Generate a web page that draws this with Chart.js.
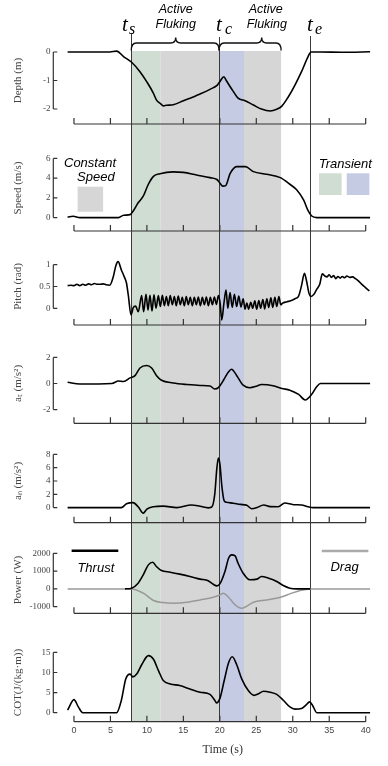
<!DOCTYPE html>
<html lang="en">
<head>
  <meta charset="UTF-8">
  <meta name="viewport" content="width=device-width, initial-scale=1">
  <title>Fluking kinematics</title>
  <style>
    * { margin: 0; padding: 0; box-sizing: border-box; }
    body { background: #fff; }
    #figure { position: relative; width: 388px; height: 766px; overflow: hidden; }
    #figure canvas { position: absolute; left: 0; }
  </style>
  <script src="https://cdn.jsdelivr.net/npm/chart.js"></script>
</head>
<body>
  <div id="figure"></div>
  <script>
// ---- time axis ----
const xTicks = [0, 5, 10, 15, 20, 25, 30, 35, 40];
const tStart = 7.86, tChange = 19.9, tEnd = 32.42;
const greenSpan = [7.86, 11.84];
const graySpan1 = [11.84, 19.9];
const blueSpan = [19.9, 23.32];
const graySpan2 = [23.32, 28.4];

// ---- series (time s, value) ----
const depthT = [-0.87, 4.9, 5.85, 6.8, 7.9, 9.05, 9.97, 10.9, 11.3, 11.9, 12.25, 12.7, 13.6, 15.0, 17.3, 18.65, 19.66, 20.0, 20.55, 20.9, 21.86, 22.5, 23.46, 24.6, 25.7, 26.9, 27.8, 28.5, 29.4, 30.3, 31.2, 32.1, 32.5, 33.7, 37, 40.6];
const depthV = [0, 0, 0.03, -0.16, -0.36, -0.69, -1.04, -1.45, -1.68, -1.82, -1.89, -1.87, -1.85, -1.71, -1.47, -1.31, -1.16, -1.04, -0.87, -1.01, -1.39, -1.62, -1.71, -1.86, -2.0, -2.07, -2.01, -1.9, -1.57, -1.16, -0.69, -0.16, 0, 0, -0.01, 0.01];

const speedT = [-0.87, -0.1, 0.8, 6.1, 6.8, 7.7, 8.1, 8.8, 9.5, 10.2, 10.9, 11.8, 13.6, 15.0, 16.8, 18.65, 19.6, 20.0, 20.4, 20.8, 21.4, 22.3, 23.5, 24.6, 26.4, 28.3, 29.6, 30.5, 31.5, 32.1, 32.6, 33.3, 40.6];
const speedV = [0.05, 0.13, 0, 0, 0.24, 0.3, 0.64, 1.5, 2.17, 3.38, 4.18, 4.45, 4.63, 4.58, 4.31, 4.05, 3.86, 3.51, 3.19, 3.24, 4.45, 5.17, 5.17, 4.66, 4.4, 4.05, 3.38, 2.84, 1.77, 0.7, 0.16, 0, 0];

const pitchT = [
  -0.87, -0.4, 0, 0.4, 0.8, 1.2, 1.6, 2.0, 2.4, 2.8,
  3.2, 3.6, 4.0, 4.4, 4.9, 5.4, 5.75, 6.05, 6.5, 6.9,
  7.2, 7.45, 7.82, 8.14, 8.45, 8.82, 9.28, 9.55, 9.88, 10.15,
  10.42, 10.7, 10.97, 11.25, 11.57, 11.84, 12.12, 12.39, 12.67, 12.94,
  13.2, 13.49, 13.76, 14.03, 14.3, 14.58, 14.85, 15.13, 15.4, 15.67,
  15.95, 16.23, 16.5, 16.78, 17.05, 17.33, 17.6, 17.88, 18.15, 18.43,
  18.7, 18.98, 19.25, 19.53, 19.8, 20.05, 20.26, 20.55, 20.85, 21.1,
  21.4, 21.7, 22.0, 22.3, 22.6, 22.9, 23.2, 23.45, 23.7, 23.95,
  24.25, 24.5, 24.8, 25.05, 25.35, 25.6, 25.9, 26.15, 26.45, 26.7,
  27.0, 27.25, 27.55, 27.8, 28.1, 28.35, 28.6, 29.2, 29.8, 30.3,
  30.8, 31.2, 31.6, 31.9, 32.2, 32.5, 32.9, 33.3, 33.7, 34.05,
  34.4, 34.7, 35.0, 35.3, 35.6, 35.9, 36.2, 36.5, 36.8, 37.1,
  37.4, 37.8, 38.2, 38.6, 39.0, 39.4, 39.8, 40.2, 40.5
];
const pitchV = [
  0.52, 0.53, 0.52, 0.55, 0.52, 0.55, 0.53, 0.56, 0.54, 0.57,
  0.55, 0.55, 0.56, 0.54, 0.53, 0.73, 0.98, 1.07, 0.88, 0.72,
  0.58, 0.3, -0.15, 0.02, 0.05, -0.08, 0.29, -0.08, 0.32, -0.04,
  0.3, -0.06, 0.31, 0.0, 0.29, 0.04, 0.3, 0.06, 0.27, 0.06,
  0.29, 0.08, 0.27, 0.06, 0.28, 0.08, 0.25, 0.06, 0.27, 0.08,
  0.25, 0.06, 0.25, 0.08, 0.26, 0.06, 0.25, 0.08, 0.26, 0.06,
  0.25, 0.08, 0.26, 0.09, 0.29, 0.1, -0.27, 0.1, 0.42, 0.0,
  0.36, 0.02, 0.32, 0.04, 0.28, 0.03, 0.22, -0.02, 0.12, -0.02,
  0.14, 0.0, 0.17, -0.02, 0.18, 0.0, 0.2, -0.01, 0.22, 0.02,
  0.24, 0.02, 0.25, 0.04, 0.27, 0.08, 0.12, 0.15, 0.18, 0.22,
  0.28, 0.52, 0.8, 0.62, 0.36, 0.27, 0.32, 0.44, 0.55, 0.79,
  0.74, 0.72, 0.77, 0.71, 0.75, 0.68, 0.73, 0.69, 0.73, 0.7,
  0.74, 0.71, 0.72, 0.68, 0.63, 0.56, 0.5, 0.44, 0.4
];

const atT = [-0.87, 0.8, 5.2, 6.1, 6.8, 7.7, 8.4, 9.05, 9.97, 10.65, 11.3, 12.0, 13.6, 15.5, 17.3, 18.65, 19.3, 19.8, 20.5, 21.2, 21.6, 22.3, 23.2, 24.1, 25.1, 25.7, 27.3, 28.5, 29.6, 30.8, 31.7, 32.6, 33.3, 33.8, 40.6];
const atV = [0.09, -0.04, 0, 0.19, 0.15, 0.43, 0.62, 1.19, 1.38, 1.19, 0.62, 0.25, 0.04, -0.08, -0.15, -0.19, -0.42, -0.32, 0.25, 0.9, 1.09, 0.62, -0.13, -0.32, -0.19, -0.08, -0.17, -0.38, -0.51, -0.83, -1.26, -0.83, -0.23, 0, 0];

const anT = [-0.87, 6.5, 7.2, 8.1, 8.8, 9.5, 10.0, 10.9, 12.25, 14.1, 16.1, 17.3, 18.4, 18.9, 19.3, 19.6, 19.8, 20.0, 20.3, 20.6, 20.9, 21.86, 22.8, 23.7, 24.4, 25.1, 26.0, 26.9, 28.0, 28.9, 30.1, 31.2, 32.1, 32.8, 40.6];
const anV = [0, 0, 0.57, 0.75, 0.13, -0.83, -0.22, 0.13, 0.22, 0, 0.4, 0.2, -0.04, 0.1, 2.0, 6.0, 7.44, 6.6, 3.0, 1.0, 0.8, 0.66, 0.48, 0.35, -0.18, 0, 0.4, 0.15, 0.13, 0.7, 0.44, 0.4, 0.13, 0, 0];

const thrustT = [7.0, 7.9, 8.8, 9.5, 10.2, 10.8, 11.3, 12.0, 13.2, 14.5, 15.9, 17.3, 18.4, 19.1, 19.6, 20.0, 20.7, 21.2, 21.6, 22.1, 22.5, 23.2, 24.1, 25.1, 25.7, 26.7, 27.8, 28.7, 29.6, 30.5, 32.4];
const thrustV = [0, 40, 320, 790, 1350, 1500, 1260, 1030, 940, 830, 700, 550, 460, 260, 170, 280, 980, 1720, 1910, 1850, 1440, 880, 510, 550, 700, 600, 420, 190, 40, 0, 0];

const dragT = [-0.87, 7.6, 7.9, 9.5, 10.9, 12.25, 13.6, 15.5, 17.3, 19.1, 20.0, 20.5, 21.2, 22.1, 23.0, 23.6, 24.6, 26.4, 28.3, 29.6, 31.0, 32.4, 40.6];
const dragV = [0, 0, 0, -240, -650, -770, -800, -750, -620, -470, -340, -240, -470, -900, -1090, -990, -750, -620, -470, -280, -90, 0, 0];

const cotT = [-0.87, 0, 0.6, 1.2, 5.85, 6.5, 7.1, 7.7, 8.05, 8.6, 9.3, 10.2, 10.9, 11.6, 12.25, 13.2, 14.5, 15.9, 17.3, 18.65, 19.3, 19.55, 20.0, 20.6, 21.2, 21.7, 22.3, 23.0, 23.9, 24.7, 25.3, 26.0, 26.9, 27.8, 28.7, 29.6, 30.3, 31.2, 31.8, 32.3, 32.7, 33.3, 40.6];
const cotV = [0.65, 3.25, 1.46, 0, 0, 3.1, 8.4, 9.6, 8.9, 9.6, 12.0, 14.2, 13.3, 10.4, 8.0, 7.15, 6.75, 5.9, 5.1, 4.55, 3.1, 2.45, 3.5, 8.0, 12.4, 13.9, 12.0, 8.4, 5.5, 4.3, 4.7, 5.35, 5.1, 4.55, 3.1, 1.46, 0.9, 1.06, 1.87, 2.7, 1.87, 0, 0];

// ---- y ticks ----
const depthTicks = [-2, -1, 0];
const speedTicks = [0, 2, 4, 6];
const pitchTicks = [0, 0.5, 1];
const atTicks = [-2, 0, 2];
const anTicks = [0, 2, 4, 6, 8];
const powerTicks = [-1000, 0, 1000, 2000];
const cotTicks = [0, 5, 10, 15];

// ---- look ----
const GREEN = '#cfddd3', GRAY = '#d6d6d6', BLUE = '#c6cbe4';
const AXIS = '#333', LABEL = '#444';
const X_MIN = -0.9, X_MAX = 41.7;
const Y_W = 67.4, PAD_R = 9.9, YAXIS_X = 53.3;

const spans = [
  { r: greenSpan, c: GREEN }, { r: graySpan1, c: GRAY },
  { r: blueSpan, c: BLUE }, { r: graySpan2, c: GRAY }
];
const events = [
  { t: tStart, top: 33 }, { t: tChange, top: 37 }, { t: tEnd, top: 36 }
];

const black = (t, v) => ({ t, v, color: '#000', width: 1.6 });
const panels = [
  { title: 'Depth (m)', ticks: depthTicks, series: [black(depthT, depthV)], top: 0, bottom: 136, aTop: 52, aBot: 109, axisY: 124 },
  { title: 'Speed (m/s)', ticks: speedTicks, series: [black(speedT, speedV)], top: 136, bottom: 240, aTop: 149, aBot: 223.7, axisY: 231 },
  { title: 'Pitch (rad)', ticks: pitchTicks, series: [black(pitchT, pitchV)], top: 240, bottom: 335, aTop: 264.7, aBot: 308.3, axisY: 325 },
  { title: 'aₜ (m/s²)', ticks: atTicks, series: [black(atT, atV)], top: 335, bottom: 432, aTop: 348.3, aBot: 419.3, axisY: 423.3 },
  { title: 'aₙ (m/s²)', ticks: anTicks, series: [black(anT, anV)], top: 432, bottom: 530, aTop: 447.5, aBot: 507.7, axisY: 522.7 },
  { title: 'Power (W)', ticks: powerTicks, series: [black(thrustT, thrustV), { t: dragT, v: dragV, color: '#999', width: 1.5 }], top: 530, bottom: 630, aTop: 553.3, aBot: 606.7, axisY: 613.3 },
  { title: 'COT(J/(kg·m))', ticks: cotTicks, series: [black(cotT, cotV)], top: 630, bottom: 766, aTop: 651, aBot: 712.7, axisY: 721.7 }
];

function text(ctx, s, x, y, font, align) {
  ctx.font = font;
  ctx.textAlign = align || 'center';
  ctx.textBaseline = 'alphabetic';
  ctx.fillStyle = '#000';
  ctx.fillText(s, x, y);
}

function brace(ctx, x1, xt, x2, yb, ym, yt) {
  const r = 5;
  ctx.beginPath();
  ctx.moveTo(x1, yb);
  ctx.quadraticCurveTo(x1, ym, x1 + r, ym);
  ctx.lineTo(xt - r, ym);
  ctx.quadraticCurveTo(xt, ym, xt, yt);
  ctx.quadraticCurveTo(xt, ym, xt + r, ym);
  ctx.lineTo(x2 - r, ym);
  ctx.quadraticCurveTo(x2, ym, x2, yb);
  ctx.stroke();
}

// shading, event lines, detached axes, notes
const decor = {
  id: 'decor',
  beforeDatasetsDraw(chart, args, opts) {
    const i = opts.index, p = panels[i];
    const first = i === 0, last = i === panels.length - 1;
    const { ctx, chartArea, scales: { x, y } } = chart;
    const y0 = first ? chartArea.top - 1 : 0;
    const y1 = last ? p.axisY - p.top : chart.height;
    ctx.save();
    spans.forEach(s => {
      const a = x.getPixelForValue(s.r[0]), b = x.getPixelForValue(s.r[1]);
      ctx.fillStyle = s.c;
      ctx.fillRect(a, y0, b - a, y1 - y0);
    });
    ctx.strokeStyle = '#3a3a3a';
    ctx.lineWidth = 1;
    events.forEach(e => {
      const px = Math.round(x.getPixelForValue(e.t)) + 0.5;
      ctx.beginPath();
      ctx.moveTo(px, first ? e.top : 0);
      ctx.lineTo(px, y1);
      ctx.stroke();
    });

    // y axis line and inward ticks
    ctx.strokeStyle = AXIS;
    ctx.lineWidth = 1.2;
    const yA = y.getPixelForValue(p.ticks[p.ticks.length - 1]);
    const yB = y.getPixelForValue(p.ticks[0]);
    ctx.beginPath();
    ctx.moveTo(YAXIS_X, yA);
    ctx.lineTo(YAXIS_X, yB);
    p.ticks.forEach(v => {
      const py = y.getPixelForValue(v);
      ctx.moveTo(YAXIS_X, py);
      ctx.lineTo(YAXIS_X + 4, py);
    });
    ctx.stroke();

    // x axis line, detached below the panel
    const ay = p.axisY - p.top;
    ctx.beginPath();
    ctx.moveTo(x.getPixelForValue(xTicks[0]), ay);
    ctx.lineTo(x.getPixelForValue(xTicks[xTicks.length - 1]), ay);
    xTicks.forEach(v => {
      const px = x.getPixelForValue(v);
      ctx.moveTo(px, ay);
      ctx.lineTo(px, ay - 6);
    });
    ctx.stroke();
    ctx.restore();
  },
  afterDatasetsDraw(chart, args, opts) {
    const i = opts.index;
    const { ctx, scales: { x } } = chart;
    const X = t => x.getPixelForValue(t);
    const off = panels[i].top;
    ctx.save();
    if (i === 0) {
      ctx.strokeStyle = '#111';
      ctx.lineWidth = 1.4;
      brace(ctx, X(tStart), X(13.95), X(tChange), 50.5, 43, 37.5);
      brace(ctx, X(tChange), X(25.74), X(28.4), 50.5, 43, 37.5);
      const f = 'italic 12.5px "Liberation Sans", Arial, sans-serif';
      text(ctx, 'Active', X(13.95), 12.5, f);
      text(ctx, 'Fluking', X(13.95), 27.5, f);
      text(ctx, 'Active', X(26.3), 12.5, f);
      text(ctx, 'Fluking', X(26.45), 27.5, f);
      const ft = 'italic 21px "Liberation Serif", serif';
      const fs = 'italic 16px "Liberation Serif", serif';
      [[6.58, 7.54, 's'], [19.48, 20.71, 'c'], [31.96, 33.06, 'e']].forEach(l => {
        text(ctx, 't', X(l[0]), 30.5, ft, 'left');
        text(ctx, l[2], X(l[1]), 34, fs, 'left');
      });
    }
    if (i === 1) {
      const f = 'italic 13px "Liberation Sans", Arial, sans-serif';
      text(ctx, 'Constant', X(2.2), 166.5 - off, f);
      text(ctx, 'Speed', X(3.0), 181 - off, f);
      ctx.fillStyle = GRAY;
      ctx.fillRect(X(0.5), 186.7 - off, X(4.0) - X(0.5), 25);
      text(ctx, 'Transient', X(37.2), 167.5 - off, f);
      ctx.fillStyle = GREEN;
      ctx.fillRect(X(33.6), 173.3 - off, X(36.7) - X(33.6), 21.7);
      ctx.fillStyle = BLUE;
      ctx.fillRect(X(37.4), 173.3 - off, X(40.5) - X(37.4), 21.7);
    }
    if (i === 5) {
      const f = 'italic 13px "Liberation Sans", Arial, sans-serif';
      ctx.lineWidth = 2.5;
      ctx.strokeStyle = '#000';
      ctx.beginPath();
      ctx.moveTo(X(-0.32), 550.7 - off);
      ctx.lineTo(X(6.08), 550.7 - off);
      ctx.stroke();
      ctx.strokeStyle = '#aaa';
      ctx.beginPath();
      ctx.moveTo(X(33.98), 551 - off);
      ctx.lineTo(X(40.37), 551 - off);
      ctx.stroke();
      text(ctx, 'Thrust', X(3.0), 571.5 - off, f);
      text(ctx, 'Drag', X(37.1), 570.5 - off, f);
    }
    ctx.restore();
  }
};

const fig = document.getElementById('figure');
panels.forEach((p, i) => {
  const last = i === panels.length - 1;
  const cv = document.createElement('canvas');
  cv.width = 388;
  cv.height = p.bottom - p.top;
  cv.style.top = p.top + 'px';
  fig.appendChild(cv);

  new Chart(cv, {
    type: 'line',
    data: {
      datasets: p.series.map(s => ({
        data: s.t.map((t, k) => ({ x: t, y: s.v[k] })),
        borderColor: s.color,
        borderWidth: s.width,
        pointRadius: 0,
        fill: false,
        clip: false,
        cubicInterpolationMode: 'monotone'
      }))
    },
    options: {
      responsive: false,
      animation: false,
      events: [],
      layout: {
        autoPadding: false,
        padding: { left: 0, right: PAD_R, top: p.aTop - p.top, bottom: last ? 0 : p.bottom - p.aBot }
      },
      plugins: { legend: { display: false }, tooltip: { enabled: false }, decor: { index: i } },
      scales: {
        x: {
          type: 'linear',
          min: X_MIN,
          max: X_MAX,
          display: last,
          grid: { display: false, drawTicks: false },
          border: { display: false },
          afterBuildTicks: s => { s.ticks = xTicks.map(v => ({ value: v })); },
          afterFit: s => { s.height = last ? p.bottom - p.aBot : 0; },
          ticks: {
            font: { family: '"Liberation Sans", Arial, sans-serif', size: 9 },
            color: LABEL,
            padding: 12,
            maxRotation: 0,
            autoSkip: false,
            callback: v => String(v)
          },
          title: {
            display: true,
            text: 'Time (s)',
            color: '#333',
            font: { family: '"Liberation Serif", serif', size: 12 },
            padding: { top: 0, bottom: 9 }
          }
        },
        y: {
          type: 'linear',
          min: p.ticks[0],
          max: p.ticks[p.ticks.length - 1],
          grid: { display: false, drawTicks: false },
          border: { display: false },
          afterBuildTicks: s => { s.ticks = p.ticks.map(v => ({ value: v })); },
          afterFit: s => { s.width = Y_W; },
          ticks: {
            font: { family: '"Liberation Serif", serif', size: 9 },
            color: LABEL,
            padding: 17,
            autoSkip: false,
            callback: v => String(v)
          },
          title: {
            display: true,
            text: p.title,
            color: LABEL,
            font: { family: '"Liberation Serif", serif', size: 11 },
            padding: { top: 11.5, bottom: 0 }
          }
        }
      }
    },
    plugins: [decor]
  });
});
  </script>
</body>
</html>
